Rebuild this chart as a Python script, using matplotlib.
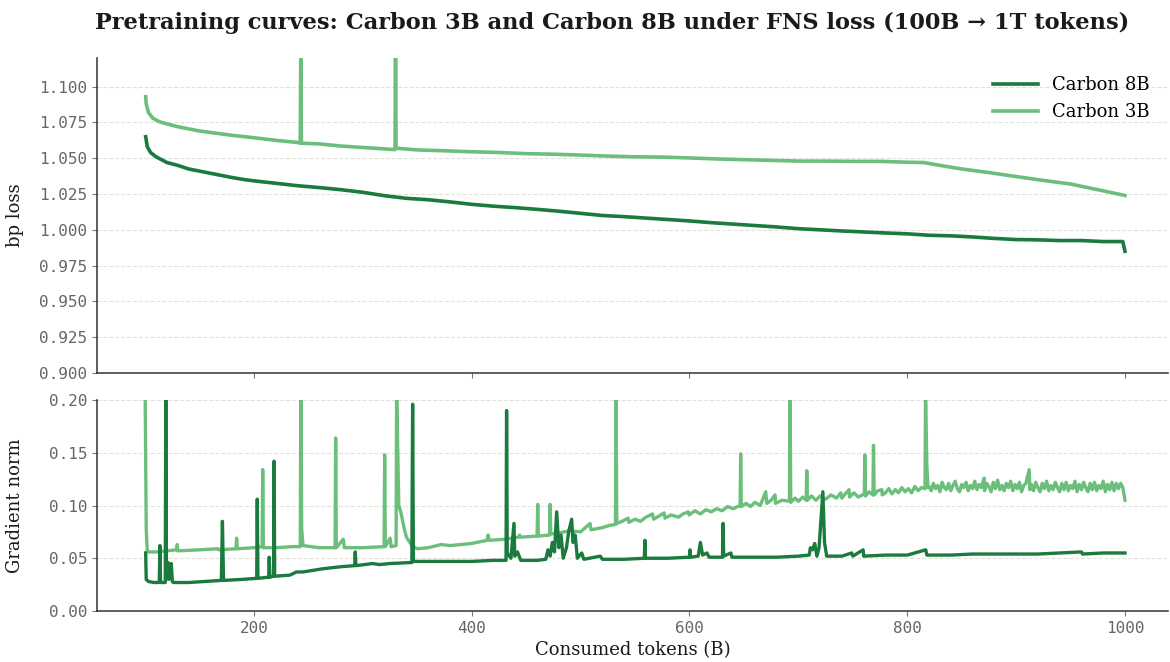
import matplotlib
matplotlib.use("Agg")
import matplotlib.pyplot as plt
import numpy as np

DARK = "#1b7a3d"
LIGHT = "#6cbf7a"

# --- bp loss, (tokens in B, loss) ---
loss_8b = [
    (100.5, 1.065), (102, 1.058), (105, 1.054), (110, 1.051), (115, 1.049),
    (120, 1.047), (130, 1.045), (140, 1.0425), (150, 1.041), (160, 1.0395),
    (170, 1.038), (180, 1.0365), (190, 1.0352), (200, 1.0342), (220, 1.0325),
    (240, 1.0308), (260, 1.0295), (280, 1.0280), (300, 1.0262), (320, 1.0238),
    (340, 1.0220), (360, 1.0210), (380, 1.0195), (400, 1.0178), (420, 1.0165),
    (440, 1.0155), (460, 1.0143), (480, 1.0130), (500, 1.0115), (520, 1.0100),
    (540, 1.0092), (560, 1.0082), (580, 1.0072), (600, 1.0062), (620, 1.0050),
    (640, 1.0040), (660, 1.0030), (680, 1.0020), (700, 1.0008), (720, 1.0000),
    (740, 0.9992), (760, 0.9985), (780, 0.9978), (800, 0.9972), (820, 0.9962),
    (840, 0.9958), (860, 0.9950), (880, 0.9940), (900, 0.9932), (920, 0.9930),
    (940, 0.9925), (960, 0.9925), (980, 0.9918), (998, 0.9918), (1000, 0.9850),
]
loss_3b = [
    (100.5, 1.093), (101, 1.088), (103, 1.082), (107, 1.078), (113, 1.0755),
    (120, 1.074), (130, 1.072), (140, 1.0705), (150, 1.069), (165, 1.0675),
    (180, 1.066), (200, 1.0643), (220, 1.0625), (240, 1.061), (242.5, 1.0605),
    (243, 1.125), (243.5, 1.0605), (260, 1.060), (280, 1.0585), (300, 1.0575),
    (320, 1.0565), (329.5, 1.056), (330, 1.125), (330.5, 1.057), (350, 1.0558),
    (375, 1.0552), (400, 1.0545), (425, 1.054), (450, 1.0532), (475, 1.0528),
    (500, 1.0522), (525, 1.0515), (550, 1.051), (575, 1.0508), (600, 1.0502),
    (625, 1.0495), (650, 1.049), (675, 1.0485), (700, 1.048), (725, 1.048),
    (750, 1.0478), (775, 1.0478), (800, 1.0472), (815, 1.047), (830, 1.045),
    (850, 1.0425), (875, 1.040), (900, 1.0372), (925, 1.0345), (950, 1.032),
    (975, 1.028), (1000, 1.024),
]

# --- gradient norm, (tokens in B, norm) ---
grad_8b = [
    (100.5, 0.055), (101, 0.030), (103, 0.028), (108, 0.027), (113, 0.027),
    (113.6, 0.062), (114.2, 0.027), (118.5, 0.027), (119, 0.21), (119.6, 0.030),
    (121, 0.046), (122, 0.030), (124, 0.045), (125, 0.028), (126, 0.027),
    (140, 0.027), (155, 0.028), (170, 0.029), (171, 0.085), (172, 0.029),
    (190, 0.030), (202.5, 0.031), (203, 0.106), (203.6, 0.031), (213.5, 0.032),
    (214, 0.051), (214.6, 0.032), (218, 0.033), (218.5, 0.142), (219, 0.033),
    (233, 0.034), (239, 0.037), (245, 0.037), (263, 0.040), (280, 0.042),
    (292.5, 0.043), (293, 0.056), (293.6, 0.043), (309, 0.045), (315, 0.044),
    (325, 0.045), (345, 0.046), (345.7, 0.196), (346.4, 0.047), (360, 0.047),
    (380, 0.047), (400, 0.047), (420, 0.048), (431.5, 0.048), (432, 0.19),
    (432.6, 0.055), (436, 0.050), (438.8, 0.083), (439.5, 0.052), (442, 0.056),
    (445, 0.048), (460, 0.048), (468, 0.049), (470, 0.058), (472, 0.052),
    (474, 0.065), (476, 0.056), (478, 0.094), (480, 0.060), (482, 0.072),
    (484, 0.050), (487, 0.060), (489, 0.075), (491.8, 0.087), (493, 0.065),
    (495, 0.072), (497, 0.050), (501, 0.055), (503, 0.049), (518, 0.052),
    (520, 0.049), (540, 0.049), (558.5, 0.050), (559, 0.067), (559.6, 0.050),
    (580, 0.050), (600, 0.051), (600.5, 0.058), (601, 0.051), (608, 0.052),
    (610, 0.065), (612, 0.053), (616, 0.055), (618, 0.051), (630.3, 0.051),
    (630.8, 0.083), (631.4, 0.052), (638, 0.055), (639, 0.051), (660, 0.051),
    (680, 0.051), (700, 0.052), (710, 0.053), (711, 0.060), (713, 0.058),
    (715, 0.064), (717, 0.052), (719, 0.060), (722.5, 0.113), (724, 0.065),
    (726, 0.052), (740, 0.052), (749, 0.055), (750, 0.052), (759.5, 0.058),
    (760, 0.052), (780, 0.053), (800, 0.053), (817, 0.058), (818, 0.053),
    (840, 0.053), (860, 0.054), (880, 0.054), (900, 0.054), (920, 0.054),
    (940, 0.055), (960, 0.056), (961, 0.054), (980, 0.055), (1000, 0.055),
]
grad_3b = [
    (100, 0.21), (101, 0.078), (102, 0.056), (110, 0.056), (120, 0.057),
    (129, 0.058), (129.5, 0.063), (130, 0.057), (150, 0.058), (167, 0.059),
    (168, 0.058), (183.5, 0.059), (184, 0.069), (184.6, 0.059), (200, 0.060),
    (207.5, 0.061), (208, 0.134), (208.6, 0.060), (220, 0.060), (235, 0.061),
    (242.5, 0.061), (243, 0.21), (243.8, 0.078), (245, 0.062), (260, 0.060),
    (274.5, 0.060), (275, 0.164), (275.6, 0.060), (282, 0.068), (283, 0.060),
    (300, 0.060), (319.5, 0.061), (320, 0.148), (320.6, 0.061), (325, 0.069),
    (326, 0.061), (330.5, 0.062), (331, 0.21), (333, 0.100), (335, 0.093),
    (338, 0.078), (340, 0.070), (345, 0.062), (350, 0.059), (360, 0.060),
    (372, 0.063), (380, 0.062), (400, 0.064), (414, 0.067), (415, 0.072),
    (416, 0.067), (430, 0.068), (443, 0.070), (444, 0.072), (445, 0.070),
    (460, 0.071), (460.6, 0.101), (461.2, 0.071), (471.5, 0.072), (472, 0.101),
    (472.6, 0.073), (480, 0.074), (490, 0.076), (500, 0.075), (508.7, 0.083),
    (509.5, 0.077), (520, 0.079), (526, 0.081), (532, 0.082), (532.6, 0.21),
    (533.2, 0.083), (538, 0.085), (543.6, 0.088), (544.3, 0.084), (550, 0.087),
    (555, 0.085), (560, 0.089), (566, 0.092), (567, 0.087), (572, 0.090),
    (576.7, 0.093), (577.5, 0.088), (583, 0.091), (590, 0.089), (594, 0.092),
    (598.8, 0.094), (599.5, 0.091), (605, 0.095), (610, 0.092), (615, 0.096),
    (620, 0.094), (625, 0.097), (630, 0.095), (635, 0.099), (640, 0.097),
    (646.5, 0.100), (647, 0.149), (647.6, 0.099), (652, 0.102), (656, 0.099),
    (660, 0.103), (665, 0.100), (670, 0.113), (671, 0.102), (675, 0.105),
    (678.6, 0.110), (679, 0.102), (685, 0.105), (691.8, 0.104), (692.4, 0.21),
    (693, 0.103), (697, 0.107), (700, 0.104), (704, 0.108), (707.2, 0.105),
    (707.7, 0.133), (708.3, 0.105), (712, 0.109), (716, 0.105), (720, 0.109),
    (725, 0.106), (730, 0.110), (735, 0.107), (739, 0.112), (740, 0.107),
    (743, 0.111), (746.6, 0.115), (747, 0.108), (751, 0.112), (755, 0.108),
    (760.6, 0.111), (761, 0.148), (761.6, 0.109), (765, 0.113), (768.5, 0.110),
    (769, 0.157), (769.6, 0.110), (773, 0.114), (776.7, 0.115), (777, 0.110),
    (780, 0.112), (783, 0.116), (786, 0.111), (789, 0.115), (792, 0.112),
    (795, 0.117), (798, 0.113), (801, 0.116), (804, 0.112), (807, 0.118),
    (810, 0.114), (813, 0.117), (816.3, 0.116), (816.8, 0.21), (818, 0.138),
    (819, 0.117), (820, 0.118), (822, 0.114), (824, 0.121), (826, 0.116),
    (828, 0.119), (830, 0.113), (832, 0.122), (834, 0.117), (836, 0.115),
    (838, 0.121), (840, 0.114), (842, 0.119), (844, 0.123), (846, 0.116),
    (848, 0.113), (850, 0.120), (852, 0.117), (854, 0.122), (856, 0.114),
    (858, 0.119), (860, 0.116), (862, 0.123), (864, 0.115), (866, 0.120),
    (868, 0.117), (870.6, 0.126), (871, 0.114), (873, 0.121), (875, 0.118),
    (877, 0.113), (879, 0.122), (881, 0.116), (883, 0.124), (885, 0.115),
    (887, 0.119), (889, 0.114), (891, 0.121), (893, 0.117), (895, 0.123),
    (897, 0.114), (899, 0.120), (901, 0.116), (903, 0.122), (905, 0.113),
    (907, 0.119), (909, 0.121), (912, 0.134), (912.6, 0.115), (914, 0.120),
    (916, 0.114), (918, 0.122), (920, 0.117), (922, 0.113), (924, 0.121),
    (926, 0.116), (928, 0.123), (930, 0.114), (932, 0.119), (934, 0.115),
    (936, 0.122), (938, 0.117), (940, 0.113), (942, 0.121), (944, 0.115),
    (946, 0.122), (948, 0.114), (950, 0.119), (952, 0.116), (954, 0.123),
    (956, 0.113), (958, 0.120), (960, 0.115), (962, 0.122), (964, 0.117),
    (966, 0.113), (968, 0.121), (970, 0.115), (972, 0.122), (974, 0.114),
    (976, 0.119), (978, 0.116), (980, 0.123), (982, 0.113), (984, 0.120),
    (986, 0.115), (988, 0.122), (990, 0.114), (992, 0.121), (994, 0.116),
    (996, 0.121), (998, 0.117), (1000, 0.105),
]

x_ticks = [200, 400, 600, 800, 1000]
loss_ticks = [0.900, 0.925, 0.950, 0.975, 1.000, 1.025, 1.050, 1.075, 1.100]
grad_ticks = [0.00, 0.05, 0.10, 0.15, 0.20]

plt.rcParams["font.family"] = "DejaVu Serif"

fig = plt.figure(figsize=(11.7, 6.62), dpi=100)
ax_loss = fig.add_axes([97 / 1170, 1 - 373 / 662, 1071 / 1170, 315 / 662])
ax_grad = fig.add_axes([97 / 1170, 1 - 611 / 662, 1071 / 1170, 211 / 662],
                       sharex=ax_loss)


def xy(pairs):
    arr = np.array(pairs)
    return arr[:, 0], arr[:, 1]


lw = 2.6
ax_loss.plot(*xy(loss_3b), color=LIGHT, lw=lw, label="Carbon 3B")
ax_loss.plot(*xy(loss_8b), color=DARK, lw=lw, label="Carbon 8B")
ax_grad.plot(*xy(grad_3b), color=LIGHT, lw=2.4)
ax_grad.plot(*xy(grad_8b), color=DARK, lw=2.4)

ax_loss.set_ylim(0.9, 1.12)
ax_loss.set_yticks(loss_ticks)
ax_loss.set_yticklabels([f"{t:.3f}" for t in loss_ticks])
ax_grad.set_ylim(0.0, 0.2)
ax_grad.set_yticks(grad_ticks)
ax_grad.set_yticklabels([f"{t:.2f}" for t in grad_ticks])
ax_grad.set_xlim(55.8, 1039.5)
ax_grad.set_xticks(x_ticks)
plt.setp(ax_loss.get_xticklabels(), visible=False)

for ax in (ax_loss, ax_grad):
    for side in ("top", "right"):
        ax.spines[side].set_visible(False)
    for side in ("left", "bottom"):
        ax.spines[side].set_color("#333333")
        ax.spines[side].set_linewidth(1.1)
    ax.grid(axis="y", linestyle="--", color="#e2e2dc", linewidth=0.8)
    ax.set_axisbelow(True)
    ax.tick_params(colors="#777777", labelcolor="#666666", labelsize=11.5,
                   length=3.5)
    for lbl in ax.get_yticklabels() + ax.get_xticklabels():
        lbl.set_family("DejaVu Sans Mono")

ax_loss.set_ylabel("bp loss", fontsize=13, color="#1a1a1a")
ax_grad.set_ylabel("Gradient norm", fontsize=13, color="#1a1a1a")
ax_grad.set_xlabel("Consumed tokens (B)", fontsize=13, color="#1a1a1a")
ax_loss.yaxis.set_label_coords(-0.068, 0.5)
ax_grad.yaxis.set_label_coords(-0.068, 0.5)

handles, labels = ax_loss.get_legend_handles_labels()
ax_loss.legend(handles[::-1], labels[::-1], loc="upper right", frameon=False,
               fontsize=13, handlelength=2.5, borderaxespad=0.6)

fig.suptitle("Pretraining curves: Carbon 3B and Carbon 8B under FNS loss "
             "(100B \u2192 1T tokens)", fontsize=16.2, fontweight="bold",
             color="#1a1a1a", x=0.523, y=0.982, va="top")

fig.savefig("out.png", dpi=100)
